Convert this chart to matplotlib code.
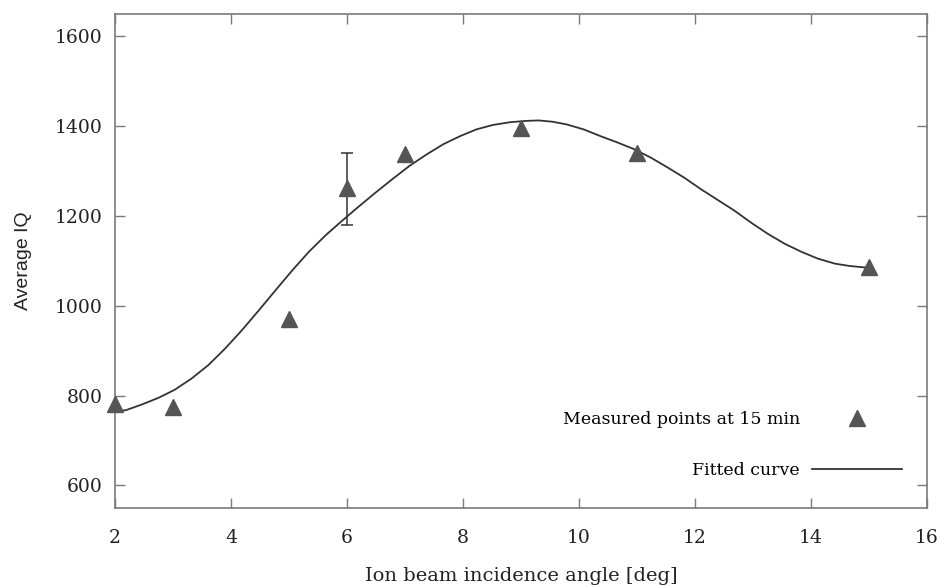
import numpy as np
import matplotlib
matplotlib.use("Agg")
import matplotlib.pyplot as plt

# measured points
angle = [2, 3, 5, 6, 7, 9, 11, 15]
avg_iq = [782, 774, 970, 1263, 1339, 1397, 1341, 1086]
err_angle = [6]
err_lo = [1179]
err_hi = [1340]

# fitted curve
fit_x = [2.0, 2.2, 2.46, 2.75, 3.03, 3.32, 3.61, 3.9, 4.19, 4.48, 4.77,
         5.05, 5.34, 5.63, 5.92, 6.21, 6.5, 6.79, 7.08, 7.37, 7.66, 7.95,
         8.23, 8.52, 8.81, 9.1, 9.3, 9.55, 9.79, 10.08, 10.37, 10.66, 10.95,
         11.24, 11.53, 11.82, 12.1, 12.39, 12.68, 12.97, 13.26, 13.55, 13.84,
         14.12, 14.41, 14.65, 14.88, 15.0]
fit_y = [763, 768, 780, 795, 813, 838, 868, 905, 946, 990, 1035,
         1078, 1120, 1157, 1190, 1222, 1253, 1283, 1312, 1337, 1360, 1378,
         1393, 1403, 1409, 1412, 1413, 1410, 1404, 1393, 1378, 1364, 1349,
         1330, 1308, 1285, 1260, 1236, 1212, 1185, 1160, 1138, 1120,
         1105, 1094, 1089, 1086, 1085]

xticks = [2, 4, 6, 8, 10, 12, 14, 16]
yticks = [600, 800, 1000, 1200, 1400, 1600]

serif = "DejaVu Serif"
frame_col = "#7a7a7a"
text_col = "#222222"

fig = plt.figure(figsize=(9.43, 5.85), dpi=100)
ax = fig.add_axes([0.122, 0.132, 0.861, 0.844])

fit_line, = ax.plot(fit_x, fit_y, color="#333333", lw=1.3, label="Fitted curve")
pts, = ax.plot(angle, avg_iq, ls="none", marker="^", ms=12, color="#555555",
               label="Measured points at 15 min", clip_on=False, zorder=4)
ax.vlines(err_angle, err_lo, err_hi, color="#333333", lw=1.1)
ax.hlines(err_lo + err_hi, [e - 0.1 for e in err_angle * 2],
          [e + 0.1 for e in err_angle * 2], color="#333333", lw=1.1)

ax.set_xlim(2, 16)
ax.set_ylim(550, 1650)
ax.set_xticks(xticks)
ax.set_yticks(yticks)
ax.tick_params(direction="in", length=7, width=1, color=frame_col,
               top=True, right=True, labelsize=13.5)
ax.tick_params(axis="x", pad=15)
ax.tick_params(axis="y", pad=9)
for lab in ax.get_xticklabels() + ax.get_yticklabels():
    lab.set_family(serif)
    lab.set_color(text_col)
for sp in ax.spines.values():
    sp.set_color(frame_col)
    sp.set_linewidth(1.2)

ax.set_xlabel("Ion beam incidence angle [deg]", family=serif, fontsize=14,
              color=text_col)
ax.xaxis.set_label_coords(0.5, -0.119)
ax.set_ylabel("Average IQ", family="Liberation Sans", fontsize=14,
              color=text_col)
ax.yaxis.set_label_coords(-0.102, 0.5)

leg = ax.legend([pts, fit_line], ["Measured points at 15 min", "Fitted curve"],
                loc="lower right", bbox_to_anchor=(1.006, -0.002),
                frameon=False, markerfirst=False,
                handlelength=5.2, handletextpad=0.7, labelspacing=1.95,
                borderaxespad=1.3, prop={"family": serif, "size": 12.5})

fig.savefig("out.png", dpi=100)
